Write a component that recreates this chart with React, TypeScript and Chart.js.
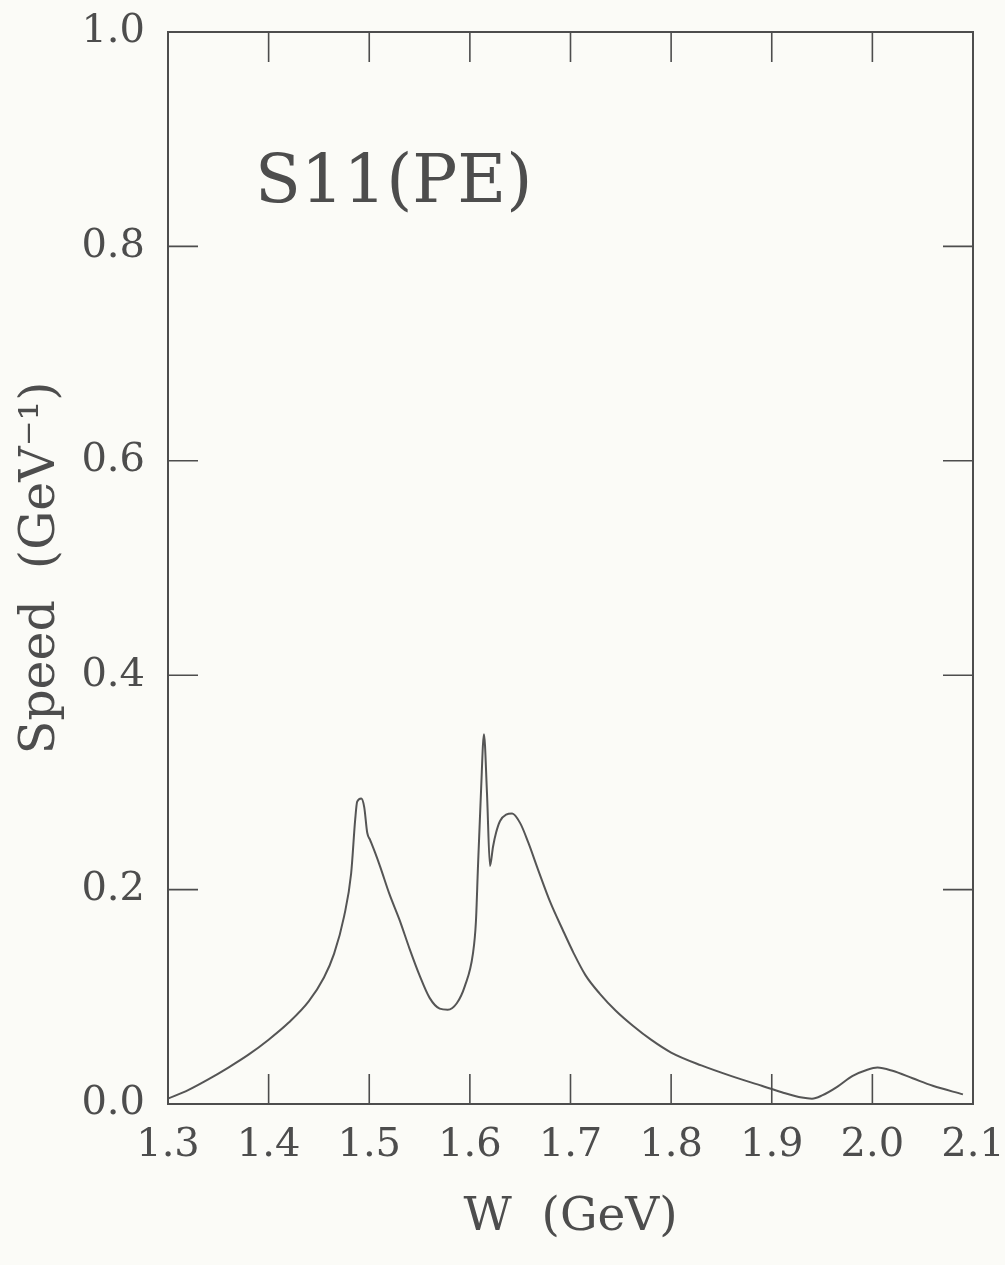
import React, { useEffect, useRef } from "react";
import { Chart, registerables } from "chart.js";

Chart.register(...registerables);

const W_GEV: number[] = [
  1.300, 1.320, 1.340, 1.360, 1.380, 1.400, 1.420, 1.440, 1.455, 1.465,
  1.475, 1.482, 1.486, 1.488, 1.492, 1.495, 1.498, 1.501, 1.506, 1.511,
  1.520, 1.530, 1.540, 1.550, 1.560, 1.570, 1.578, 1.587, 1.595, 1.603,
  1.606, 1.608, 1.611, 1.614, 1.617, 1.620, 1.623, 1.626, 1.630, 1.636,
  1.642, 1.650, 1.658, 1.668, 1.680, 1.692, 1.703, 1.715, 1.729, 1.745,
  1.762, 1.780, 1.800, 1.830, 1.860, 1.890, 1.910, 1.930, 1.940, 1.950,
  1.965, 1.980, 1.995, 2.005, 2.020, 2.040, 2.060, 2.090,
];

const SPEED: number[] = [
  0.005, 0.013, 0.023, 0.034, 0.046, 0.060, 0.076, 0.096, 0.118, 0.140,
  0.175, 0.215, 0.265, 0.282, 0.285, 0.277, 0.253, 0.246, 0.234, 0.221,
  0.196, 0.172, 0.145, 0.120, 0.099, 0.089, 0.088, 0.094, 0.110, 0.140,
  0.170, 0.220, 0.290, 0.345, 0.290, 0.222, 0.240, 0.253, 0.264, 0.270,
  0.271, 0.262, 0.244, 0.218, 0.188, 0.163, 0.141, 0.120, 0.103, 0.087,
  0.073, 0.060, 0.048, 0.036, 0.026, 0.017, 0.011, 0.006, 0.005, 0.008,
  0.016, 0.026, 0.032, 0.034, 0.031, 0.024, 0.017, 0.009,
];

const X_TICKS: number[] = [1.3, 1.4, 1.5, 1.6, 1.7, 1.8, 1.9, 2.0, 2.1];
const Y_TICKS: number[] = [0.0, 0.2, 0.4, 0.6, 0.8, 1.0];

const PLOT_LABEL = "S11(PE)";
const X_TITLE = "W  (GeV)";
const Y_TITLE = "Speed  (GeV\u207B\u00B9)";

const INK = "#4d4d4d";
const FONT = "'DejaVu Serif', serif";

const framePlugin = {
  id: "frame",
  beforeDraw(chart: any) {
    const { ctx, width, height } = chart;
    ctx.save();
    ctx.fillStyle = "#fbfbf7";
    ctx.fillRect(0, 0, width, height);
    ctx.restore();
  },
  afterDatasetsDraw(chart: any) {
    const { ctx, chartArea: a, scales } = chart;
    const xs = scales.x;
    const ys = scales.y;
    const len = 30;
    ctx.save();
    ctx.strokeStyle = INK;
    ctx.lineWidth = 1.6;
    ctx.beginPath();
    for (const v of X_TICKS) {
      const px = xs.getPixelForValue(v);
      ctx.moveTo(px, a.bottom);
      ctx.lineTo(px, a.bottom - len);
      ctx.moveTo(px, a.top);
      ctx.lineTo(px, a.top + len);
    }
    for (const v of Y_TICKS) {
      const py = ys.getPixelForValue(v);
      ctx.moveTo(a.left, py);
      ctx.lineTo(a.left + len, py);
      ctx.moveTo(a.right, py);
      ctx.lineTo(a.right - len, py);
    }
    ctx.stroke();
    ctx.lineWidth = 2;
    ctx.strokeRect(a.left, a.top, a.right - a.left, a.bottom - a.top);
    ctx.fillStyle = INK;
    ctx.font = `67px ${FONT}`;
    ctx.textAlign = "left";
    ctx.textBaseline = "alphabetic";
    ctx.fillText(PLOT_LABEL, 255, 202);
    ctx.restore();
  },
};

export default function App() {
  const ref = useRef<HTMLCanvasElement | null>(null);
  useEffect(() => {
    if (!ref.current) return;
    const data = W_GEV.map((w, i) => ({ x: w, y: SPEED[i] }));
    const chart = new Chart(ref.current, {
      type: "line",
      data: {
        datasets: [
          {
            data,
            borderColor: "#555555",
            borderWidth: 2,
            pointRadius: 0,
            cubicInterpolationMode: "monotone",
            fill: false,
          },
        ],
      },
      plugins: [framePlugin],
      options: {
        animation: false,
        responsive: false,
        maintainAspectRatio: false,
        layout: { padding: { top: 32, right: 32, left: 0, bottom: 0 } },
        plugins: { legend: { display: false }, tooltip: { enabled: false } },
        scales: {
          x: {
            type: "linear",
            min: 1.3,
            max: 2.1,
            afterFit: (s: any) => {
              s.height = 161;
              s.paddingLeft = 0;
              s.paddingRight = 0;
            },
            afterBuildTicks: (s: any) => {
              s.ticks = X_TICKS.map((v) => ({ value: v }));
            },
            grid: { display: false, drawTicks: false },
            border: { display: false },
            ticks: {
              color: INK,
              font: { family: FONT, size: 40 },
              padding: 18,
              maxRotation: 0,
              autoSkip: false,
              callback: (v: any) => Number(v).toFixed(1),
            },
            title: {
              display: true,
              text: X_TITLE,
              color: INK,
              font: { family: FONT, size: 47 },
              padding: { top: 0, bottom: 19 },
            },
          },
          y: {
            type: "linear",
            min: 0,
            max: 1,
            afterFit: (s: any) => {
              s.width = 168;
              s.paddingTop = 0;
              s.paddingBottom = 0;
            },
            afterBuildTicks: (s: any) => {
              s.ticks = Y_TICKS.map((v) => ({ value: v }));
            },
            grid: { display: false, drawTicks: false },
            border: { display: false },
            ticks: {
              color: INK,
              font: { family: FONT, size: 40 },
              padding: 23,
              autoSkip: false,
              callback: (v: any) => Number(v).toFixed(1),
            },
            title: {
              display: true,
              text: Y_TITLE,
              color: INK,
              font: { family: FONT, size: 49 },
              padding: { top: 12, bottom: 0 },
            },
          },
        },
      },
    });
    return () => chart.destroy();
  }, []);
  return (
    <canvas
      ref={ref}
      width={1005}
      height={1265}
      style={{ position: "absolute", left: 0, top: 0, display: "block" }}
    />
  );
}
